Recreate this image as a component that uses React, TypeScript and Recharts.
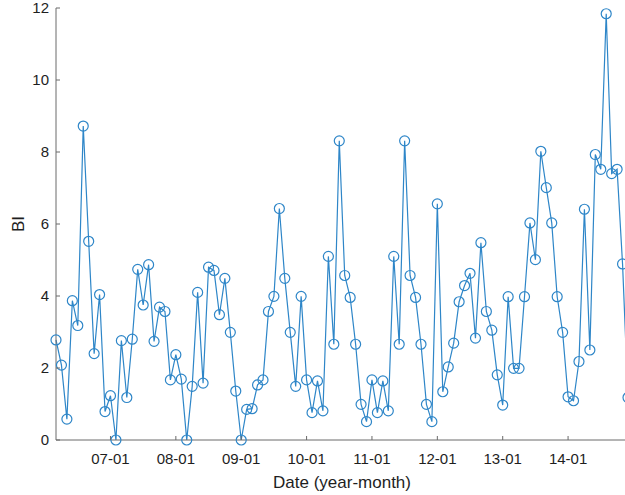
import React from 'react';
import { LineChart, Line, XAxis, YAxis } from 'recharts';

// Monthly BI values, 2006-03 .. 2014-12
const biValues: number[] = [
  2.78, 2.08, 0.58, 3.87, 3.18, 8.72, 5.52, 2.40, 4.04, 0.79,
  1.23, 0, 2.76, 1.18, 2.80, 4.74, 3.75, 4.87, 2.74, 3.69,
  3.57, 1.67, 2.37, 1.69, 0, 1.49, 4.10, 1.58, 4.80, 4.71,
  3.48, 4.49, 2.99, 1.36, 0, 0.85, 0.87, 1.53, 1.67, 3.57,
  3.99, 6.43, 4.49, 2.99, 1.49, 3.99, 1.67, 0.76, 1.64, 0.81,
  5.10, 2.66, 8.31, 4.57, 3.96, 2.66, 0.99, 0.51, 1.67, 0.76,
  1.64, 0.81, 5.10, 2.66, 8.31, 4.57, 3.96, 2.66, 0.99, 0.51,
  6.56, 1.34, 2.03, 2.69, 3.84, 4.29, 4.63, 2.83, 5.48, 3.57,
  3.05, 1.81, 0.97, 3.98, 1.99, 1.99, 3.98, 6.03, 5.01, 8.02,
  7.01, 6.03, 3.98, 2.99, 1.20, 1.09, 2.18, 6.41, 2.50, 7.93,
  7.52, 11.84, 7.40, 7.52, 4.89, 1.18,
];

const startYear = 2006;
const startMonth = 3;

const xTickIndex: number[] = [10, 22, 34, 46, 58, 70, 82, 94];
const xTickLabels: string[] = ['07-01', '08-01', '09-01', '10-01', '11-01', '12-01', '13-01', '14-01'];
const yTicks: number[] = [0, 2, 4, 6, 8, 10, 12];

const data = biValues.map((v, i) => {
  const m = startMonth - 1 + i;
  const y = startYear + Math.floor(m / 12);
  const mm = (m % 12) + 1;
  return { i, date: `${y}-${String(mm).padStart(2, '0')}`, bi: v };
});

const AXIS = '#6a6a6a';
const TEXT = '#1e1e1e';
const LINE = '#2e86c8';
const FONT = '"Liberation Sans", Arial, sans-serif';

const BottomTick = (props: any) => {
  const { x, y, payload } = props;
  const idx = xTickIndex.indexOf(payload.value);
  const label = idx >= 0 ? xTickLabels[idx] : '';
  return (
    <g>
      <line x1={x} y1={y} x2={x} y2={y - 4} stroke={AXIS} strokeWidth={1} />
      <text x={x} y={y + 24} textAnchor="middle" fill={TEXT} fontSize={15} fontFamily={FONT}>
        {label}
      </text>
    </g>
  );
};

const LeftTick = (props: any) => {
  const { x, y, payload } = props;
  return (
    <g>
      <line x1={x} y1={y} x2={x + 4} y2={y} stroke={AXIS} strokeWidth={1} />
      <text x={x - 7} y={y + 5} textAnchor="end" fill={TEXT} fontSize={15} fontFamily={FONT}>
        {payload.value}
      </text>
    </g>
  );
};

export default function App() {
  return (
    <div style={{ position: 'absolute', left: 0, top: 0, width: 625, height: 495, overflow: 'hidden', background: '#fff' }}>
      <LineChart
        width={625}
        height={495}
        data={data}
        margin={{ top: 8, right: -3, left: 0, bottom: 0 }}
        style={{ fontFamily: FONT }}
      >
        <XAxis
          xAxisId="b"
          dataKey="i"
          type="number"
          domain={[0, 105]}
          ticks={xTickIndex}
          interval={0}
          height={55}
          stroke={AXIS}
          tickLine={false}
          tickSize={0}
          tickMargin={0}
          tick={<BottomTick />}
          label={{ value: 'Date (year-month)', position: 'insideBottom', offset: 7, fill: TEXT, fontSize: 17, fontFamily: FONT }}
        />
        <XAxis
          xAxisId="t"
          dataKey="i"
          type="number"
          orientation="top"
          mirror
          domain={[0, 105]}
          ticks={xTickIndex}
          interval={0}
          height={0}
          stroke={AXIS}
          tickSize={4}
          tickFormatter={() => ''}
        />
        <YAxis
          yAxisId="l"
          type="number"
          domain={[0, 12]}
          ticks={yTicks}
          interval={0}
          width={56}
          stroke={AXIS}
          tickLine={false}
          tickSize={0}
          tickMargin={0}
          tick={<LeftTick />}
          label={{ value: 'BI', angle: -90, position: 'center', dx: -10, fill: TEXT, fontSize: 17, fontFamily: FONT }}
        />
        <YAxis
          yAxisId="r"
          type="number"
          orientation="right"
          mirror
          domain={[0, 12]}
          ticks={yTicks}
          interval={0}
          width={0}
          stroke={AXIS}
          tickSize={4}
          tickFormatter={() => ''}
        />
        <Line
          xAxisId="b"
          yAxisId="l"
          type="linear"
          dataKey="bi"
          stroke={LINE}
          strokeWidth={1.2}
          dot={{ r: 5, stroke: LINE, strokeWidth: 1.2, fill: 'none' }}
          activeDot={false}
          isAnimationActive={false}
        />
      </LineChart>
    </div>
  );
}
